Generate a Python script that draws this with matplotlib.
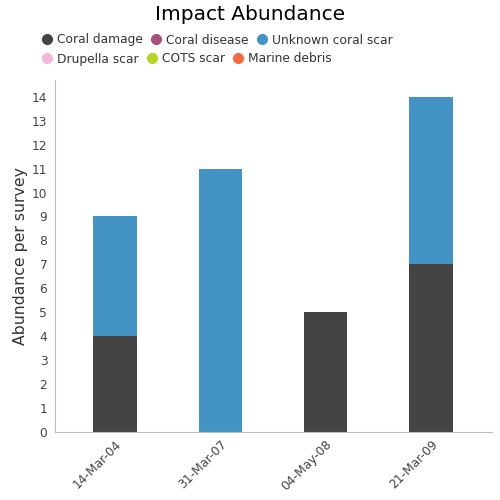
import matplotlib
matplotlib.use("Agg")
import matplotlib.pyplot as plt
from matplotlib.lines import Line2D
import numpy as np

plt.rcParams['font.family'] = ['DejaVu Sans']

# survey dates and impact counts per survey
dates = ['14-Mar-04', '31-Mar-07', '04-May-08', '21-Mar-09']
coral_damage = [4, 0, 5, 7]
unknown_scar = [5, 11, 0, 7]

legend_names = ['Coral damage', 'Coral disease', 'Unknown coral scar',
                'Drupella scar', 'COTS scar', 'Marine debris']
legend_colors = ['#444444', '#a94f7b', '#4394c4', '#f4b6d9', '#b5d629', '#f26c3f']

fig = plt.figure(figsize=(5, 5), dpi=100)
ax = fig.add_axes([0.11, 0.136, 0.874, 0.704])

x = np.arange(len(dates))
ax.bar(x, coral_damage, width=0.41, color='#444444')
ax.bar(x, unknown_scar, width=0.41, bottom=coral_damage, color='#4394c4')

ax.set_xlim(-0.57, 3.58)
ax.set_ylim(0, 14.7)
ax.set_yticks(range(0, 15))
ax.set_xticks(x)
ax.set_xticklabels(dates, rotation=45, ha='right', rotation_mode='anchor')
ax.tick_params(axis='both', length=0, labelsize=8.8, colors='#444444')
ax.tick_params(axis='y', pad=5.5)
ax.tick_params(axis='x', pad=4)

for s in ['top', 'right']:
    ax.spines[s].set_visible(False)
for s in ['left', 'bottom']:
    ax.spines[s].set_color('#bbbbbb')

ax.set_ylabel('Abundance per survey', fontsize=11.3, color='#333333', labelpad=3)

fig.suptitle('Impact Abundance', fontsize=14.5, y=0.99)

handles = [Line2D([], [], marker='o', linestyle='', markersize=7,
                  markerfacecolor=c, markeredgecolor=c) for c in legend_colors]
# two legend rows
for rows, ypos in [(slice(0, 3), 0.92), (slice(3, 6), 0.882)]:
    fig.legend(handles[rows], legend_names[rows], loc='center left', bbox_to_anchor=(0.084, ypos),
               ncol=3, frameon=False, fontsize=8.8, handletextpad=0.42, columnspacing=0.7,
               labelcolor='#333333', borderaxespad=0, borderpad=0, handlelength=0.8)

fig.savefig('out.png', dpi=100)
